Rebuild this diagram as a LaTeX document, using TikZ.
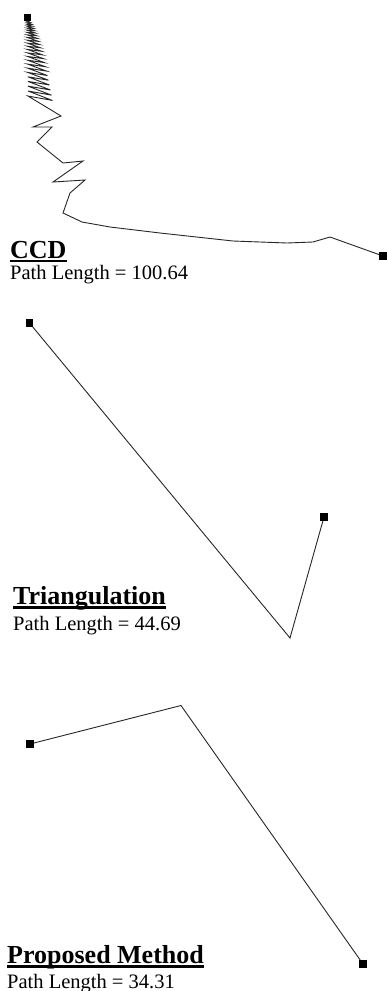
\documentclass[tikz,border=0pt]{standalone}
\usepackage{fontspec}
\setmainfont{Liberation Serif}
\usepackage{tikz}
\usetikzlibrary{positioning,calc}
\tikzstyle{joint} = [rectangle, fill=black, draw=none, minimum size=7.5pt, inner sep=0pt]
\tikzstyle{trace} = [draw=black!85, line width=0.9pt, line join=miter]
\tikzstyle{ttl}   = [anchor=base west, inner sep=0pt, font=\fontsize{26}{28}\selectfont\bfseries]
\tikzstyle{plen}  = [anchor=base west, inner sep=0pt, font=\fontsize{20.5}{24}\selectfont]
\tikzstyle{uline} = [line width=2.2pt]

\begin{document}
\begin{tikzpicture}[x=1pt, y=-1pt]
  \useasboundingbox (0,0) rectangle (387,991);

  % CCD
  \node[joint] (ccdA) at (27.5,17.5) {};
  \node[joint] (ccdB) at (383,256) {};
  \draw[trace] (ccdA) -- (27,21)
    \foreach \i in {0,...,23} {
      -- ({29.5+1.0*\i},{21+1.5*\i+0.085*\i*\i})
      -- ({26.8+0.05*(\i+1)},{20+1.2*(\i+1)+0.082*(\i+1)*(\i+1)})
    }
    -- (61,116) -- (33,127) -- (52,127) -- (37,142) -- (63,163) -- (83,161)
    -- (53,182) -- (85,180) -- (70,193) -- (63,213) -- (82,222) -- (110,227)
    -- (160,233) -- (233,241) -- (287,243) -- (313,242) -- (330,237) -- (ccdB);
  \node[ttl] (ccdTitle) at (10,258) {CCD};
  \draw[uline] ([yshift=-3pt]ccdTitle.base west) -- ([yshift=-3pt]ccdTitle.base east);
  \node[plen] (ccdLen) at (10,279.5) {Path Length = 100.64};

  % Triangulation
  \node[joint] (triA) at (29.5,323) {};
  \node[joint] (triB) at (324,517) {};
  \coordinate (triV) at (290,638);
  \draw[trace] (triA) -- (triV) -- (triB);
  \node[ttl] (triTitle) at (13,604) {Triangulation};
  \draw[uline] ([yshift=-3.5pt]triTitle.base west) -- ([yshift=-3.5pt]triTitle.base east);
  \node[plen] (triLen) at (13,630) {Path Length = 44.69};

  % Proposed Method
  \node[joint] (prpA) at (30,744) {};
  \node[joint] (prpB) at (363,964) {};
  \coordinate (prpV) at (181,705.5);
  \draw[trace] (prpA) -- (prpV) -- (prpB);
  \node[ttl] (prpTitle) at (7,963) {Proposed Method};
  \draw[uline] ([yshift=-3.5pt]prpTitle.base west) -- ([yshift=-3.5pt]prpTitle.base east);
  \node[plen] (prpLen) at (7,988) {Path Length = 34.31};

\end{tikzpicture}
\end{document}
